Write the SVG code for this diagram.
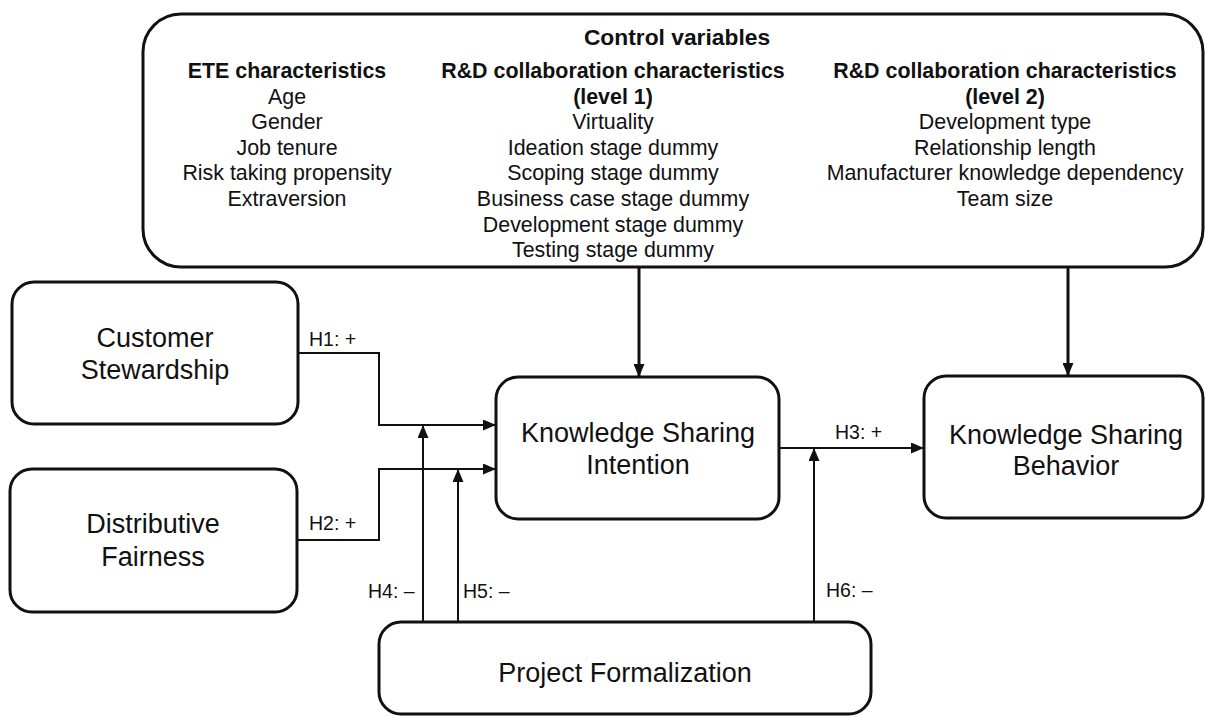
<svg xmlns="http://www.w3.org/2000/svg" width="1205" height="716" viewBox="0 0 1205 716">
<defs>
<style>
.box{fill:#fff;stroke:#111;stroke-width:3}
.t{font-family:"Liberation Sans",Arial,sans-serif;fill:#111;text-anchor:middle}
.n{font-size:27px}
.c{font-size:21.4px}
.b{font-weight:bold}
.h{font-family:"Liberation Sans",Arial,sans-serif;fill:#111;font-size:19.5px}
.ln{fill:none;stroke:#111;stroke-width:2}
.lt{fill:none;stroke:#111;stroke-width:3}
</style>
<marker id="ah" markerUnits="userSpaceOnUse" markerWidth="13" markerHeight="11" refX="13" refY="5.5" orient="auto">
<path d="M0,0 L13,5.5 L0,11 z" fill="#111"/>
</marker>
</defs>
<rect width="1205" height="716" fill="#fff"/>

<g id="control-variables">
<rect class="box" x="143" y="14" width="1060" height="253" rx="38" ry="38"/>
<text class="t b" x="677" y="45" style="font-size:22.8px">Control variables</text>
<text class="t c b" x="287" y="78">ETE characteristics</text>
<text class="t c" x="287" y="103.6">Age</text>
<text class="t c" x="287" y="129.2">Gender</text>
<text class="t c" x="287" y="154.8">Job tenure</text>
<text class="t c" x="287" y="180.4">Risk taking propensity</text>
<text class="t c" x="287" y="206">Extraversion</text>
<text class="t c b" x="613" y="78">R&amp;D collaboration characteristics</text>
<text class="t c b" x="613" y="103.6">(level 1)</text>
<text class="t c" x="613" y="129.2">Virtuality</text>
<text class="t c" x="613" y="154.8">Ideation stage dummy</text>
<text class="t c" x="613" y="180.4">Scoping stage dummy</text>
<text class="t c" x="613" y="206">Business case stage dummy</text>
<text class="t c" x="613" y="231.6">Development stage dummy</text>
<text class="t c" x="613" y="257.2">Testing stage dummy</text>
<text class="t c b" x="1005" y="78">R&amp;D collaboration characteristics</text>
<text class="t c b" x="1005" y="103.6">(level 2)</text>
<text class="t c" x="1005" y="129.2">Development type</text>
<text class="t c" x="1005" y="154.8">Relationship length</text>
<text class="t c" x="1005" y="180.4">Manufacturer knowledge dependency</text>
<text class="t c" x="1005" y="206">Team size</text>
</g>

<g id="customer-stewardship">
<rect class="box" x="12" y="282" width="286" height="142" rx="22" ry="22"/>
<text class="t n" x="155" y="347">Customer</text>
<text class="t n" x="155" y="379">Stewardship</text>
</g>

<g id="distributive-fairness">
<rect class="box" x="10" y="469" width="287" height="143" rx="22" ry="22"/>
<text class="t n" x="153" y="533">Distributive</text>
<text class="t n" x="153" y="566">Fairness</text>
</g>

<g id="knowledge-sharing-intention">
<rect class="box" x="496" y="377" width="283" height="142" rx="22" ry="22"/>
<text class="t n" x="638" y="442">Knowledge Sharing</text>
<text class="t n" x="638" y="474">Intention</text>
</g>

<g id="knowledge-sharing-behavior">
<rect class="box" x="924" y="376" width="279" height="142" rx="22" ry="22"/>
<text class="t n" x="1066" y="444">Knowledge Sharing</text>
<text class="t n" x="1066" y="475">Behavior</text>
</g>

<g id="project-formalization">
<rect class="box" x="379" y="622" width="492" height="92" rx="22" ry="22"/>
<text class="t n" x="625" y="682">Project Formalization</text>
</g>

<g id="connectors">
<path class="lt" d="M639,267 V377" marker-end="url(#ah)"/>
<path class="lt" d="M1068,267 V376" marker-end="url(#ah)"/>
<path class="ln" d="M298,353 H379 V425 H496" marker-end="url(#ah)"/>
<path class="ln" d="M297,540 H379 V469 H496" marker-end="url(#ah)"/>
<path class="ln" d="M779,448 H924" marker-end="url(#ah)"/>
<path class="ln" d="M423,622 V425" marker-end="url(#ah)"/>
<path class="ln" d="M458,622 V469" marker-end="url(#ah)"/>
<path class="ln" d="M814,622 V448" marker-end="url(#ah)"/>
<text class="h" x="309" y="346">H1: +</text>
<text class="h" x="309" y="530">H2: +</text>
<text class="h" x="835" y="439">H3: +</text>
<text class="h" x="368" y="598">H4: –</text>
<text class="h" x="463" y="598">H5: –</text>
<text class="h" x="826" y="597">H6: –</text>
</g>
</svg>
